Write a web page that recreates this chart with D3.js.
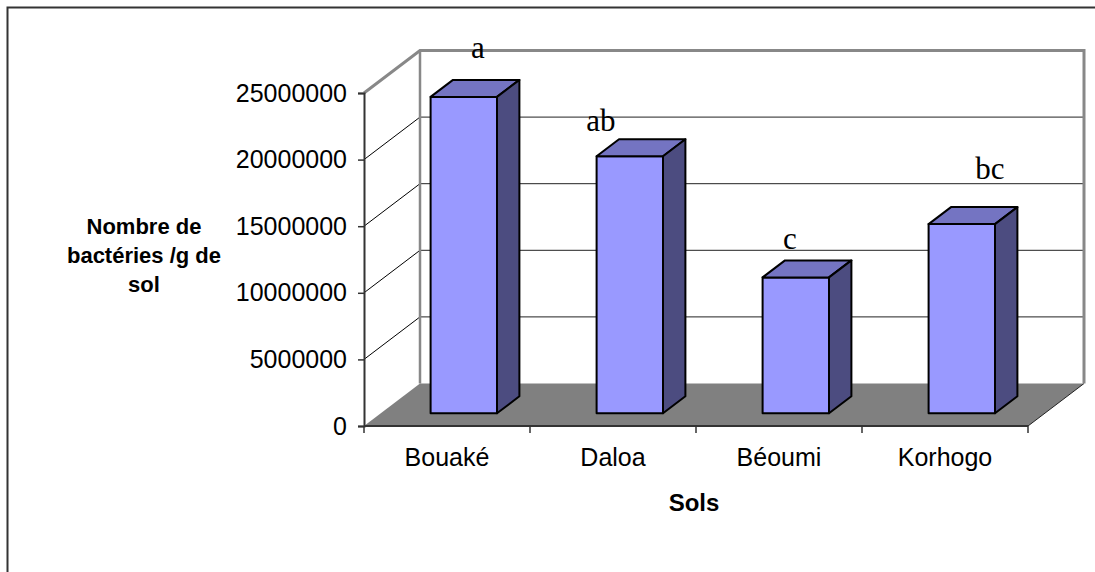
<!DOCTYPE html>
<html>
<head>
<meta charset="utf-8">
<script src="https://cdn.jsdelivr.net/npm/d3@7/dist/d3.min.js"></script>
<style>
  html, body { margin: 0; padding: 0; background: #fff; }
  svg { display: block; }
</style>
</head>
<body>
<svg id="chart" width="1095" height="572"></svg>
<script>
// Soil sites and bacterial counts per gram of soil
const sites = ["Bouaké", "Daloa", "Béoumi", "Korhogo"];
const counts = [23750000, 19300000, 10200000, 14200000];
// Statistical grouping letters shown above each bar
const groups = ["a", "ab", "c", "bc"];
// Value-axis ticks
const yTicks = [0, 5000000, 10000000, 15000000, 20000000, 25000000];

// Hand-placed offsets of the grouping letters (px, relative to bar top centre)
const letterNudge = [[3, -30], [-40, -17], [-17, -20], [17, -37]];

const svg = d3.select("#chart");

// Front plane of the 3-D box and its oblique depth
const X0 = 364, X1 = 1028, Y0 = 426, H = 333;
const DX = 56, DY = 42.5;
const proj = (px, py, f) => [px + DX * f, py - DY * f];
const F0 = 0.3, F1 = 0.7; // depth span of the bars

const y = d3.scaleLinear().domain([0, 25000000]).range([Y0, Y0 - H]);
const x = d3.scaleBand().domain(sites).range([X0, X1]).paddingInner(0.6).paddingOuter(0.3);
const step = (X1 - X0) / sites.length;

// Outer chart frame
svg.append("rect")
  .attr("x", 7.5).attr("y", 7.5).attr("width", 1200).attr("height", 700)
  .attr("fill", "none").attr("stroke", "#333").attr("stroke-width", 2);

const line = d3.line();
const innerTicks = yTicks.filter(d => d > 0 && d < 25000000);

// Back-wall gridlines
svg.append("g").selectAll("path").data(innerTicks).join("path")
  .attr("d", d => line([proj(X0, y(d), 1), proj(X1, y(d), 1)]))
  .attr("stroke", "#222").attr("stroke-width", 1).attr("fill", "none");

// Side-wall gridlines
svg.append("g").selectAll("path").data(innerTicks).join("path")
  .attr("d", d => line([[X0, y(d)], proj(X0, y(d), 1)]))
  .attr("stroke", "#000").attr("stroke-width", 1).attr("fill", "none");

// Floor
svg.append("path")
  .attr("d", line([[X0, Y0], proj(X0, Y0, 1), proj(X1, Y0, 1), [X1, Y0]]) + "Z")
  .attr("fill", "#808080");
svg.append("path")
  .attr("d", line([[X1, Y0], proj(X1, Y0, 1)]))
  .attr("stroke", "#222").attr("stroke-width", 1).attr("fill", "none");

// Wall outline (grey)
const yTop = y(25000000);
svg.append("path")
  .attr("d", line([[X0, yTop], proj(X0, yTop, 1), proj(X1, yTop, 1), proj(X1, Y0, 1)]))
  .attr("stroke", "#888").attr("stroke-width", 3).attr("fill", "none");
svg.append("path")
  .attr("d", line([proj(X0, yTop, 1), proj(X0, Y0, 1)]))
  .attr("stroke", "#888").attr("stroke-width", 2.5).attr("fill", "none");

// Bars
const bars = svg.append("g").selectAll("g").data(sites.map((s, i) => ({ s, v: counts[i], i }))).join("g");
bars.each(function (d) {
  const g = d3.select(this);
  const bx = x(d.s), w = x.bandwidth(), yv = y(d.v);
  const face = (pts, fill) => g.append("path").attr("d", line(pts) + "Z")
    .attr("fill", fill).attr("stroke", "#000").attr("stroke-width", 2).attr("stroke-linejoin", "round");
  face([proj(bx, Y0, F0), proj(bx + w, Y0, F0), proj(bx + w, yv, F0), proj(bx, yv, F0)], "#9999FF");
  face([proj(bx, yv, F0), proj(bx + w, yv, F0), proj(bx + w, yv, F1), proj(bx, yv, F1)], "#7474C2");
  face([proj(bx + w, Y0, F0), proj(bx + w, Y0, F1), proj(bx + w, yv, F1), proj(bx + w, yv, F0)], "#4C4C80");
});

// Value axis
const yAxis = svg.append("g").attr("transform", `translate(${X0},0)`)
  .call(d3.axisLeft(y).tickValues(yTicks).tickSize(6).tickPadding(11).tickFormat(d3.format("d")));
yAxis.select(".domain").attr("stroke", "#333").attr("stroke-width", 2);
yAxis.selectAll(".tick line").attr("stroke", "#333").attr("stroke-width", 1.5);
yAxis.selectAll(".tick text").attr("font-family", "Liberation Sans, Arial, sans-serif")
  .attr("font-size", 25).attr("fill", "#000");

// Category axis
const xAxis = svg.append("g");
xAxis.append("path").attr("d", line([[X0, Y0], [X1, Y0]]))
  .attr("stroke", "#333").attr("stroke-width", 2).attr("fill", "none");
xAxis.selectAll("line").data(d3.range(sites.length + 1)).join("line")
  .attr("x1", i => X0 + i * step).attr("x2", i => X0 + i * step)
  .attr("y1", Y0).attr("y2", Y0 + 7)
  .attr("stroke", "#333").attr("stroke-width", 1.5);
xAxis.selectAll("text").data(sites).join("text")
  .attr("x", d => x(d) + x.bandwidth() / 2).attr("y", 466)
  .attr("text-anchor", "middle")
  .attr("font-family", "Liberation Sans, Arial, sans-serif").attr("font-size", 25)
  .text(d => d);

// Grouping letters
svg.append("g").selectAll("text").data(groups).join("text")
  .attr("x", (d, i) => proj(x(sites[i]) + x.bandwidth() / 2, y(counts[i]), 0.5)[0] + letterNudge[i][0])
  .attr("y", (d, i) => proj(0, y(counts[i]), 0.5)[1] + letterNudge[i][1])
  .attr("text-anchor", "middle")
  .attr("font-family", "Liberation Serif, Times New Roman, serif").attr("font-size", 31)
  .text(d => d);

// Axis titles
svg.append("text").attr("x", 694).attr("y", 511).attr("text-anchor", "middle")
  .attr("font-family", "Liberation Sans, Arial, sans-serif").attr("font-size", 24).attr("font-weight", "bold")
  .text("Sols");
const yTitle = svg.append("text").attr("text-anchor", "middle")
  .attr("font-family", "Liberation Sans, Arial, sans-serif").attr("font-size", 22).attr("font-weight", "bold");
["Nombre de", "bactéries /g de", "sol"].forEach((t, i) => {
  yTitle.append("tspan").attr("x", 144).attr("y", 234 + i * 29).text(t);
});
</script>
</body>
</html>
